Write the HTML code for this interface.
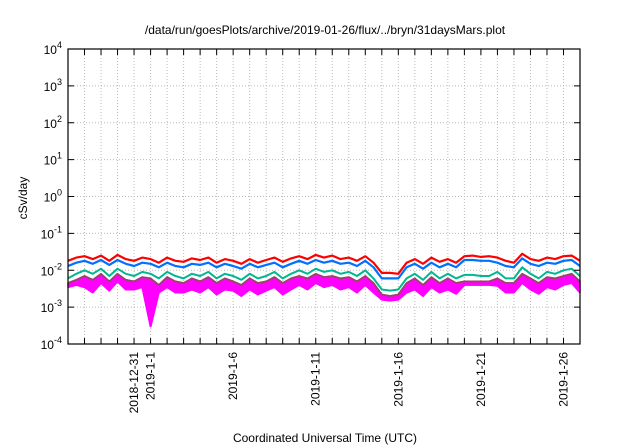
<!DOCTYPE html>
<html><head><meta charset="utf-8"><style>
html,body{margin:0;padding:0;background:#fff;}
svg{display:block;font-family:"Liberation Sans",sans-serif;}
</style></head><body>
<svg id="chart" width="640" height="448" viewBox="0 0 640 448" xmlns="http://www.w3.org/2000/svg">
<text x="325" y="34" font-size="12" text-anchor="middle">/data/run/goesPlots/archive/2019-01-26/flux/../bryn/31daysMars.plot</text>
<g id="grid"></g>
<g id="series"></g>
<g id="axes"></g>
<text transform="translate(27,198) rotate(-90)" font-size="12" text-anchor="middle">cSv/day</text>
<text x="325" y="442" font-size="12" text-anchor="middle">Coordinated Universal Time (UTC)</text>
</svg>
<script>
// Data: half-day samples from 2018-12-27 00:00 to 2019-01-27 00:00, units of 1e-3 cSv/day
const dayLabels = ["2018-12-31","2019-1-1","2019-1-6","2019-1-11","2019-1-16","2019-1-21","2019-1-26"];
const dayLabelOffsets = [4,5,10,15,20,25,30];
const yTickExps = [-4,-3,-2,-1,0,1,2,3,4];
const redVals = [18,22,24,20,25,18,26,20,18,22,20,16,22,18,17,21,19,22,16,20,18,15,20,16,19,22,17,21,24,20,26,22,25,20,22,18,24,16,8.5,8.5,8,16,20,15,22,17,20,16,24,25,23,24,22,18,16,28,20,18,22,20,24,25,18];
const blueVals = [13,16,18,15,19,14,19,15,13,16,15,12,16,13,12,15,14,16,12,15,13,11,15,12,14,16,12,15,18,15,19,16,18,15,16,13,18,12,6,6,6,12,15,11,16,12,15,12,19,19,18,18,16,13,12,21,15,13,16,15,18,19,13];
const greenVals = [6,8,10,8,11,7,11,8,7,9,8,6,9,7,6,8,7,9,6,8,7,5.5,8,6,7,9,6,8,10,8,11,9,10,8,9,7,10,6,3,2.8,3,6,8,5.5,9,6,8,6,7.5,7.5,7,7,9,6,6,12,8,6,9,8,10,11,7];
const brownVals = [4.5,5.5,7,5.5,8,5,8,5.5,5,6.5,6,4,6.5,5,4.5,6,5,6.5,4.5,6,5,4,6,4.5,5,6.5,4.5,6,7,6,8,6.5,7,6,6.5,5,7,4.5,2.2,2,2.2,4.5,6,4,6.5,4.5,6,4.5,5,5,5,5,6,4.5,4.5,8,6,4.5,6.5,6,7,8,5];
const magentaVals = [3.5,4,3.5,2.5,4.5,2.8,5,3,3,3.5,0.3,2.5,3.5,2.5,2.5,3,2.5,3.5,2.2,3,2.8,2,3,2.2,2.8,3.5,2.2,3,4,3,4.5,3.5,4,3,3.5,2.5,4,2.5,1.6,1.5,1.6,2.5,3,2,3.5,2.5,3,2.3,4,4,4,4,3.8,2.5,2.5,4.5,3,2.3,3.5,3,4,4.5,2.5];

const NS="http://www.w3.org/2000/svg";
const X0=68,X1=580,Y0=49,Y1=344,DAYS=31;
const xs=d=>X0+(X1-X0)*d/DAYS;
const ys=v=>Y1-(Math.log10(v)+4)*(Y1-Y0)/8;
function mk(tag,attrs,parent){const e=document.createElementNS(NS,tag);for(const k in attrs)e.setAttribute(k,attrs[k]);parent.appendChild(e);return e;}
const grid=document.getElementById('grid'),axes=document.getElementById('axes'),ser=document.getElementById('series');
for(let d=1;d<DAYS;d++){
  const x=xs(d);
  const g=mk('line',{x1:x,x2:x,y1:Y0,y2:Y1,stroke:'#bbb','stroke-width':1,'stroke-dasharray':'1,2'},grid);
  
  
  const t1=mk('line',{x1:x,x2:x,y1:Y1,y2:Y1-6,stroke:'#000'},axes);
  
  
  const t2=mk('line',{x1:x,x2:x,y1:Y0,y2:Y0+6,stroke:'#000'},axes);
  
  
}
yTickExps.forEach(e=>{
  const y=ys(Math.pow(10,e));
  if(e>-4&&e<4){const g=mk('line',{x1:X0,x2:X1,y1:y,y2:y,stroke:'#bbb','stroke-dasharray':'1,2'},grid);
  
  }
  const t=mk('line',{x1:X0,x2:X0+6,y1:y,y2:y,stroke:'#000'},axes);
  
  
  const t2=mk('line',{x1:X1,x2:X1-6,y1:y,y2:y,stroke:'#000'},axes);
  
  
  const lab=mk('text',{x:X0-6,y:y+5,'font-size':12,'text-anchor':'end'},axes);
  
  
  lab.textContent='10';
  const sup=mk('tspan',{dy:-6,'font-size':9},lab);sup.textContent=String(e);
});
dayLabels.forEach((s,i)=>{
  const x=xs(dayLabelOffsets[i]);
  const t=mk('text',{transform:`translate(${x+4},${Y1+8}) rotate(-90)`,'font-size':12,'text-anchor':'end'},axes);
  
  
  t.textContent=s;
});
const frame=mk('rect',{x:X0,y:Y0,width:X1-X0,height:Y1-Y0,fill:'none',stroke:'#000','stroke-width':1.2},axes);


function pts(vals){return vals.map((v,i)=>xs(i*0.5).toFixed(1)+','+ys(v*1e-3).toFixed(1));}
function line(vals,color,w,name){
  const p=mk('polyline',{points:pts(vals).join(' '),fill:'none',stroke:color,'stroke-width':w,'stroke-linejoin':'round'},ser);
  
  
}
// magenta band between magenta lower values and brown values
const band=mk('polygon',{points:pts(brownVals).concat(pts(magentaVals).reverse()).join(' '),fill:'#ff00ff',stroke:'#ff00ff','stroke-width':1.5,'stroke-linejoin':'round'},ser);


line(magentaVals,'#ff00ff',2,'series-magenta');
line(brownVals,'#994466',1.8,'series-brown');
line(greenVals,'#00b890',2,'series-green');
line(blueVals,'#0070ff',2.2,'series-blue');
line(redVals,'#ff0000',2.2,'series-red');
</script>
</body></html>
